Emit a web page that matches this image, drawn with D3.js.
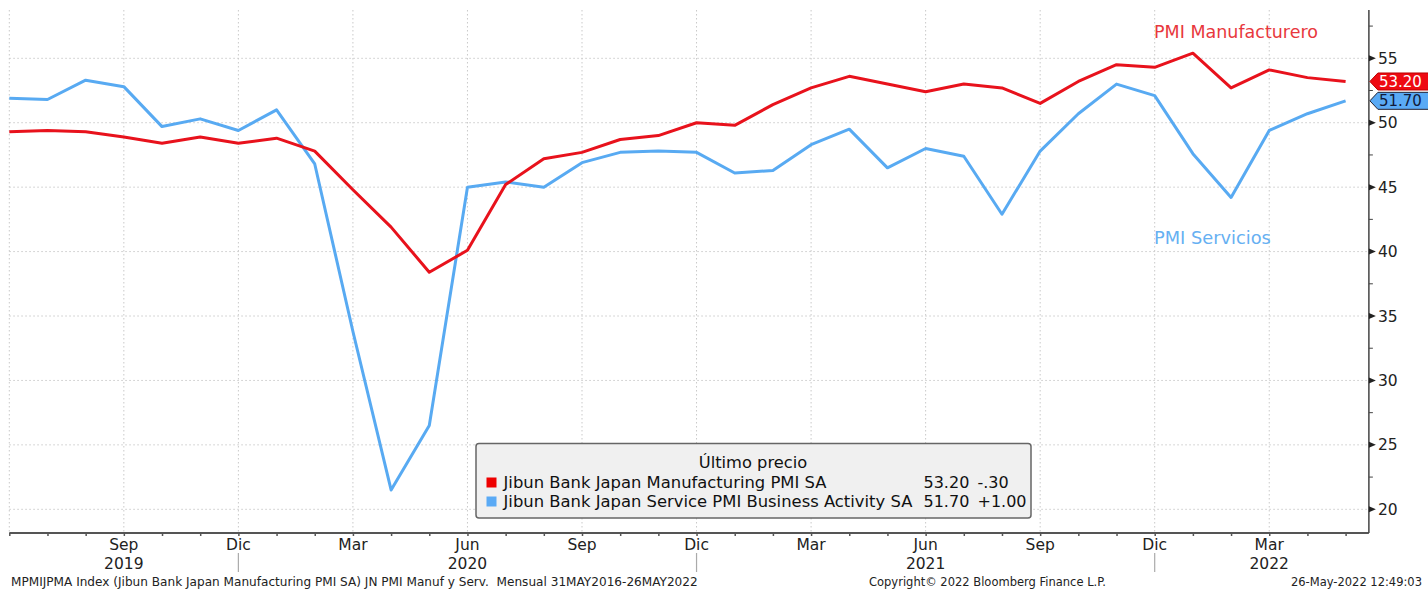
<!DOCTYPE html>
<html>
<head>
<meta charset="utf-8">
<script src="https://cdn.jsdelivr.net/npm/d3@7"></script>
<style>
  html, body { margin: 0; padding: 0; background: #fff; }
  svg { display: block; }
  text { font-family: "DejaVu Sans", "Noto Sans", sans-serif; }
</style>
</head>
<body>
<script>
// ---- data ----
const months = ["Jun 2019","Jul 2019","Ago 2019","Sep 2019","Oct 2019","Nov 2019","Dic 2019",
  "Ene 2020","Feb 2020","Mar 2020","Abr 2020","May 2020","Jun 2020","Jul 2020","Ago 2020","Sep 2020","Oct 2020","Nov 2020","Dic 2020",
  "Ene 2021","Feb 2021","Mar 2021","Abr 2021","May 2021","Jun 2021","Jul 2021","Ago 2021","Sep 2021","Oct 2021","Nov 2021","Dic 2021",
  "Ene 2022","Feb 2022","Mar 2022","Abr 2022","May 2022"];
const manufacturing = [49.3,49.4,49.3,48.9,48.4,48.9,48.4,
  48.8,47.8,44.8,41.9,38.4,40.1,45.2,47.2,47.7,48.7,49.0,50.0,
  49.8,51.4,52.7,53.6,53.0,52.4,53.0,52.7,51.5,53.2,54.5,54.3,
  55.4,52.7,54.1,53.5,53.2];
const services = [51.9,51.8,53.3,52.8,49.7,50.3,49.4,
  51.0,46.8,33.8,21.5,26.5,45.0,45.4,45.0,46.9,47.7,47.8,47.7,
  46.1,46.3,48.3,49.5,46.5,48.0,47.4,42.9,47.8,50.7,53.0,52.1,
  47.6,44.2,49.4,50.7,51.7];
const quarterTicks = [3,6,9,12,15,18,21,24,27,30,33];
const quarterLabels = ["Sep","Dic","Mar","Jun","Sep","Dic","Mar","Jun","Sep","Dic","Mar"];
const yearTicks = [3,12,24,33];
const yearLabels = ["2019","2020","2021","2022"];
const yearSeparators = [6,18,30];
const yMajor = [20,25,30,35,40,45,50,55];
const yMinor = [22.5,27.5,32.5,37.5,42.5,47.5,52.5,57.5];
const seriesNames = ["Jibun Bank Japan Manufacturing PMI SA","Jibun Bank Japan Service PMI Business Activity SA"];
const lastValues = ["53.20","51.70"];
const changes = ["-.30","+1.00"];

// ---- layout ----
const W = 1428, H = 590;
const RED = "#e8121c", BLUE = "#58aaf2";
const svg = d3.select("body").append("svg").attr("width", W).attr("height", H);

const x = d3.scaleLinear().domain([0, 35]).range([9.3, 1345.6]);
const y = d3.scaleLinear().domain([20, 55]).range([509.3, 58.3]);
const plotTop = 10, plotBottom = 533, axisX = x(35.61), plotLeft = x(0);

// grid
const grid = svg.append("g");
grid.selectAll("line.h").data(yMajor).join("line")
  .attr("x1", plotLeft).attr("x2", axisX).attr("y1", d => y(d)).attr("y2", d => y(d))
  .attr("stroke", "#c9c9c9").attr("stroke-width", 1).attr("stroke-dasharray", "1.5,2.5");
grid.selectAll("line.v").data([0].concat(quarterTicks)).join("line")
  .attr("x1", d => x(d)).attr("x2", d => x(d)).attr("y1", plotTop).attr("y2", plotBottom)
  .attr("stroke", "#c9c9c9").attr("stroke-width", 1).attr("stroke-dasharray", "1.5,2.5");

// x axis
const xAxisG = svg.append("g").attr("transform", `translate(0,${plotBottom})`);
xAxisG.call(d3.axisBottom(x).tickValues(d3.range(0, 36)).tickSize(3).tickFormat(""));
xAxisG.select(".domain").remove();
xAxisG.selectAll(".tick line").attr("stroke", "#555").attr("stroke-width", 1.5);
xAxisG.append("line").attr("x1", plotLeft).attr("x2", axisX).attr("y1", 0).attr("y2", 0)
  .attr("stroke", "#555").attr("stroke-width", 2);

svg.append("g").selectAll("text").data(quarterTicks).join("text")
  .attr("x", d => x(d)).attr("y", 550).attr("text-anchor", "middle")
  .attr("font-size", 15.5).attr("fill", "#222").text((d, i) => quarterLabels[i]);
svg.append("g").selectAll("text").data(yearTicks).join("text")
  .attr("x", d => x(d)).attr("y", 569).attr("text-anchor", "middle")
  .attr("font-size", 15.5).attr("fill", "#222").text((d, i) => yearLabels[i]);
svg.append("g").selectAll("line").data(yearSeparators).join("line")
  .attr("x1", d => x(d)).attr("x2", d => x(d)).attr("y1", 553).attr("y2", 572)
  .attr("stroke", "#aaa").attr("stroke-width", 1.2);

// y axis
svg.append("line").attr("x1", axisX).attr("x2", axisX).attr("y1", plotTop).attr("y2", plotBottom)
  .attr("stroke", "#444").attr("stroke-width", 1.5);
svg.append("g").selectAll("line").data(yMinor).join("line")
  .attr("x1", axisX).attr("x2", axisX + 4).attr("y1", d => y(d)).attr("y2", d => y(d))
  .attr("stroke", "#444").attr("stroke-width", 1);
svg.append("g").selectAll("path").data(yMajor).join("path")
  .attr("d", d => `M${axisX},${y(d) - 3}L${axisX + 7},${y(d)}L${axisX},${y(d) + 3}Z`)
  .attr("fill", "#222");
svg.append("g").selectAll("text").data(yMajor).join("text")
  .attr("x", axisX + 9).attr("y", d => y(d)).attr("dy", "0.36em")
  .attr("font-size", 15.5).attr("fill", "#222").text(d => d);

// lines
const line = d3.line().x((d, i) => x(i)).y(d => y(d));
svg.append("path").datum(services).attr("d", line).attr("fill", "none")
  .attr("stroke", BLUE).attr("stroke-width", 3).attr("stroke-linejoin", "round");
svg.append("path").datum(manufacturing).attr("d", line).attr("fill", "none")
  .attr("stroke", RED).attr("stroke-width", 3).attr("stroke-linejoin", "round");

// annotations
svg.append("text").attr("x", 1154).attr("y", 37.5).attr("font-size", 17.5)
  .attr("fill", "#e8383d").text("PMI Manufacturero");
svg.append("text").attr("x", 1154).attr("y", 243.5).attr("font-size", 17.8)
  .attr("fill", "#66b0f2").text("PMI Servicios");

// last value tags
const tagData = [
  {v: manufacturing[manufacturing.length - 1], label: lastValues[0], fill: "#ee0a12", stroke: "#b00", text: "#fff"},
  {v: services[services.length - 1], label: lastValues[1], fill: "#5aaaf5", stroke: "#223", text: "#111a3a"}
];
const tags = svg.append("g").selectAll("g").data(tagData).join("g")
  .attr("transform", d => `translate(${axisX + 1},${y(d.v)})`);
tags.append("path").attr("d", "M0,0L8,-8.5L62,-8.5L62,8.5L8,8.5Z")
  .attr("fill", d => d.fill).attr("stroke", d => d.stroke).attr("stroke-width", 1);
tags.append("text").attr("x", 9).attr("dy", "0.36em").attr("font-size", 15)
  .attr("fill", d => d.text).text(d => d.label);

// legend
const lg = svg.append("g");
lg.append("rect").attr("x", 476).attr("y", 443.5).attr("width", 555).attr("height", 74.5)
  .attr("rx", 3).attr("fill", "#f0f0f0").attr("stroke", "#666").attr("stroke-width", 1.5);
lg.append("text").attr("x", 753).attr("y", 468).attr("text-anchor", "middle")
  .attr("font-size", 16.3).attr("fill", "#111").text("Último precio");
const rows = lg.selectAll("g.row").data(seriesNames).join("g")
  .attr("transform", (d, i) => `translate(0,${482.5 + i * 19})`);
rows.append("rect").attr("x", 486.5).attr("y", -5).attr("width", 10).attr("height", 10)
  .attr("fill", (d, i) => i === 0 ? "#ee0000" : "#5aaaf5");
rows.append("text").attr("x", 503.5).attr("dy", "0.36em").attr("font-size", 16.4)
  .attr("fill", "#111").text(d => d);
rows.append("text").attr("x", 923.5).attr("dy", "0.36em").attr("font-size", 16)
  .attr("fill", "#111").text((d, i) => lastValues[i]);
rows.append("text").attr("x", 977.5).attr("dy", "0.36em").attr("font-size", 16)
  .attr("fill", "#111").text((d, i) => changes[i]);

// footer
svg.append("text").attr("x", 11).attr("y", 586).attr("font-size", 12.1).attr("fill", "#222")
  .attr("xml:space", "preserve")
  .text("MPMIJPMA Index (Jibun Bank Japan Manufacturing PMI SA) JN PMI Manuf y Serv.  Mensual 31MAY2016-26MAY2022");
svg.append("text").attr("x", 869).attr("y", 586).attr("font-size", 11.5).attr("fill", "#222")
  .text("Copyright© 2022 Bloomberg Finance L.P.");
svg.append("text").attr("x", 1422).attr("y", 586).attr("text-anchor", "end").attr("font-size", 11.5).attr("fill", "#222")
  .text("26-May-2022 12:49:03");
</script>
</body>
</html>
